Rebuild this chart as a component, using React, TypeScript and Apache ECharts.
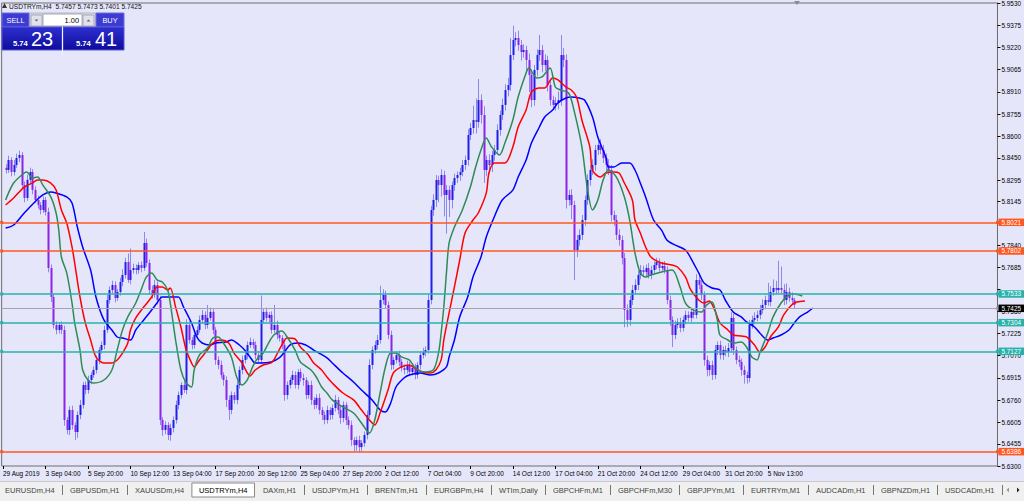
import React, { useEffect, useRef } from "react";
import * as echarts from "echarts";

// ---------- DATA (prices in 1e-4 above 5.0000, e.g. 7425 = 5.7425) ----------
const firstOpen = 8380;
const closes = [
  8365, 8435, 8351, 8400, 8449, 8470, 8260, 8170, 8296, 8351,
  8226, 8156, 8121, 8086, 8156, 8072, 7681, 7479, 7284, 7249,
  7284, 7249, 6621, 6551, 6691, 6586, 6537, 6656, 6726, 6865,
  6830, 6900, 6935, 6970, 7040, 7109, 7144, 7249, 7458, 7528,
  7563, 7472, 7514, 7584, 7633, 7723, 7598, 7667, 7681, 7667,
  7702, 7681, 7856, 7716, 7528, 7493, 7563, 7458, 6621, 6551,
  6586, 6516, 6565, 6621, 6726, 6795, 6865, 6830, 7284, 7179,
  7144, 7214, 7249, 7319, 7354, 7284, 7333, 7375, 7249, 7040,
  7005, 6935, 6900, 6761, 6691, 6795, 6761, 6865, 6970, 7040,
  7074, 7144, 7165, 7144, 7074, 7040, 7319, 7375, 7333, 7354,
  7249, 7284, 7214, 7193, 7144, 6795, 6865, 6900, 6935, 6865,
  6956, 6914, 6900, 6795, 6865, 6761, 6726, 6775, 6691, 6656,
  6621, 6691, 6656, 6705, 6761, 6691, 6635, 6726, 6621, 6586,
  6481, 6446, 6481, 6432, 6460, 6516, 6656, 7005, 7109, 7144,
  7179, 7458, 7493, 7423, 7214, 7005, 7040, 7074, 7026, 6984,
  6970, 7005, 6956, 6984, 6935, 7005, 7074, 7095, 7109, 7458,
  8086, 8156, 8295, 8260, 8330, 8191, 8226, 8156, 8260, 8309,
  8330, 8351, 8400, 8435, 8609, 8658, 8714, 8700, 8853, 8749,
  8365, 8435, 8400, 8470, 8505, 8644, 8749, 8819, 8923, 8958,
  9167, 9272, 9286, 9237, 9188, 9202, 9132, 9028, 8853, 9063,
  9167, 9202, 9097, 9132, 8958, 8853, 8819, 8833, 8853, 9167,
  9132, 8156, 8191, 8121, 7807, 7877, 7912, 8016, 8156, 8295,
  8365, 8400, 8505, 8540, 8505, 8449, 8400, 8365, 8051, 8016,
  7912, 7877, 7751, 7388, 7319, 7458, 7528, 7563, 7633, 7667,
  7653, 7681, 7633, 7667, 7702, 7723, 7681, 7695, 7667, 7458,
  7319, 7214, 7284, 7305, 7263, 7319, 7354, 7333, 7375, 7354,
  7598, 7563, 7493, 7040, 6970, 7005, 6935, 7109, 7144, 7074,
  7109, 7095, 7123, 7333, 7109, 7040, 7026, 6970, 6935, 6914,
  7284, 7319, 7333, 7354, 7388, 7423, 7458, 7444, 7514, 7542,
  7528, 7542, 7528, 7458, 7514, 7472, 7457, 7425,
];
const upperWicks = [
  25, 30, 20, 35, 30, 30, 20, 25, 35, 30,
  20, 25, 30, 20, 25, 20, 30, 25, 20, 25,
  20, 25, 30, 20, 25, 30, 20, 25, 35, 20,
  25, 30, 20, 25, 30, 20, 25, 30, 35, 25,
  30, 25, 20, 30, 40, 30, 60, 150, 30, 25,
  20, 25, 77, 30, 25, 30, 35, 25, 30, 20,
  25, 20, 30, 25, 30, 25, 20, 30, 40, 25,
  20, 30, 25, 30, 35, 25, 90, 30, 25, 20,
  25, 30, 20, 25, 30, 25, 20, 30, 25, 30,
  20, 25, 30, 20, 25, 30, 170, 25, 30, 20,
  25, 140, 30, 25, 20, 30, 25, 20, 30, 25,
  20, 25, 30, 20, 25, 30, 20, 25, 30, 20,
  25, 30, 20, 25, 35, 20, 30, 25, 20, 25,
  30, 20, 25, 30, 20, 25, 30, 40, 25, 30,
  35, 100, 40, 30, 25, 30, 20, 25, 30, 20,
  25, 30, 20, 25, 30, 20, 25, 30, 25, 40,
  30, 40, 35, 30, 40, 30, 35, 30, 25, 30,
  25, 30, 35, 30, 40, 35, 100, 150, 147, 40,
  60, 30, 40, 30, 35, 40, 30, 45, 40, 50,
  118, 100, 40, 50, 35, 40, 30, 45, 40, 35,
  40, 105, 35, 40, 30, 35, 30, 40, 60, 140,
  50, 40, 35, 40, 30, 35, 40, 35, 30, 40,
  35, 40, 35, 30, 40, 35, 30, 40, 35, 30,
  35, 40, 30, 35, 40, 30, 35, 40, 30, 35,
  30, 25, 35, 30, 25, 30, 25, 30, 35, 25,
  30, 25, 30, 25, 30, 25, 30, 25, 30, 25,
  40, 35, 30, 25, 30, 25, 30, 35, 25, 30,
  25, 30, 35, 40, 30, 25, 30, 25, 30, 25,
  35, 30, 40, 30, 35, 40, 30, 120, 40, 60,
  50, 190, 150, 40, 60, 30, 40, 16,
];
const lowerWicks = [
  25, 20, 30, 25, 20, 30, 25, 30, 20, 25,
  30, 20, 25, 30, 20, 25, 30, 35, 25, 30,
  25, 30, 40, 30, 35, 30, 56, 40, 30, 25,
  30, 25, 30, 20, 25, 30, 25, 30, 20, 25,
  25, 30, 20, 25, 30, 25, 20, 30, 25, 30,
  25, 30, 20, 25, 30, 25, 20, 30, 35, 40,
  30, 35, 40, 30, 25, 30, 25, 20, 30, 25,
  30, 25, 30, 20, 25, 30, 25, 20, 30, 35,
  30, 25, 40, 50, 70, 30, 25, 30, 25, 30,
  25, 30, 20, 25, 30, 25, 30, 20, 25, 30,
  25, 20, 30, 25, 30, 40, 30, 25, 30, 25,
  30, 25, 40, 30, 25, 35, 30, 25, 30, 35,
  30, 25, 35, 30, 25, 30, 40, 30, 35, 30,
  40, 45, 40, 35, 30, 25, 30, 25, 30, 25,
  30, 25, 30, 25, 30, 35, 30, 25, 30, 25,
  30, 25, 30, 25, 30, 25, 30, 25, 30, 25,
  30, 40, 50, 120, 80, 150, 270, 120, 60, 40,
  35, 40, 30, 35, 40, 35, 40, 80, 40, 60,
  90, 40, 60, 50, 40, 35, 40, 35, 40, 45,
  40, 35, 45, 40, 60, 40, 80, 120, 50, 40,
  45, 40, 50, 40, 45, 40, 35, 40, 45, 40,
  50, 60, 40, 100, 210, 50, 40, 35, 40, 35,
  40, 35, 40, 35, 30, 35, 40, 35, 45, 40,
  35, 40, 45, 120, 50, 40, 35, 30, 35, 30,
  25, 30, 25, 30, 25, 30, 25, 30, 25, 30,
  40, 84, 30, 25, 30, 25, 30, 25, 30, 25,
  25, 30, 35, 40, 45, 40, 35, 30, 35, 30,
  35, 30, 35, 30, 35, 30, 35, 40, 60, 40,
  30, 25, 30, 25, 30, 25, 30, 25, 30, 25,
  30, 25, 30, 35, 30, 25, 30, 24,
];

// Alligator lines: [bar position, price in 1e-4 above 5]
const lipsLine = [
  [0, 8156], [3, 8274], [7, 8344], [8, 8351], [10, 8309], [12, 8316], [14, 8260], [17, 8177], [19, 8065], [20, 7947],
  [21, 7758], [23, 7647], [25, 7437], [26, 7298], [28, 7109], [29, 6970], [31, 6900], [33, 6879], [37, 6900], [40, 6970],
  [42, 7109], [44, 7249], [46, 7340], [49, 7437], [51, 7528], [53, 7619], [55, 7647], [57, 7598], [59, 7584], [61, 7528],
  [62, 7437], [64, 7179], [66, 6970], [68, 6879], [70, 6851], [71, 6970], [73, 7075], [76, 7123], [78, 7193], [80, 7200],
  [82, 7158], [85, 7061], [87, 6921], [89, 6865], [91, 6900], [93, 6991], [95, 7054], [97, 7088], [99, 7158], [101, 7214],
  [104, 7242], [106, 7200], [109, 7109], [111, 7026], [115, 6970], [117, 6921], [119, 6851], [121, 6809], [123, 6761], [127, 6712],
  [131, 6670], [134, 6600], [137, 6530], [139, 6621], [141, 6809], [143, 6991], [145, 7088], [147, 7088], [149, 7061], [152, 7040],
  [154, 6991], [157, 6956], [161, 6970], [163, 7088], [164, 7228], [165, 7409], [166, 7647], [167, 7856], [169, 7967], [172, 8086],
  [175, 8246], [177, 8386], [179, 8505], [181, 8588], [183, 8526], [186, 8470], [188, 8553], [191, 8714], [193, 8874], [196, 9042],
  [197, 9077], [200, 9007], [202, 9014], [205, 9077], [207, 8944], [209, 8923], [212, 8902], [214, 8784], [217, 8526], [219, 8246],
  [221, 8086], [223, 8156], [225, 8295], [227, 8365], [230, 8316], [233, 8177], [235, 8016], [237, 7786], [239, 7647], [241, 7619],
  [243, 7633], [247, 7654], [251, 7667], [254, 7549], [256, 7437], [259, 7388], [262, 7374], [264, 7423], [266, 7444], [268, 7319],
  [269, 7214], [272, 7179], [274, 7158], [277, 7165], [279, 7130], [281, 7061], [283, 7040], [284, 7088], [287, 7228], [289, 7340],
  [292, 7437], [295, 7493], [297, 7500], [300, 7486],
];
const teethLine = [
  [0, 8121], [3, 8170], [7, 8246], [10, 8274], [12, 8295], [14, 8295], [17, 8274], [19, 8225], [21, 8086], [23, 7995],
  [25, 7828], [26, 7716], [28, 7479], [30, 7298], [32, 7179], [34, 7061], [37, 7019], [40, 7019], [42, 7040], [44, 7088],
  [46, 7158], [47, 7249], [49, 7333], [52, 7409], [55, 7479], [57, 7549], [59, 7549], [61, 7528], [62, 7542], [64, 7409],
  [66, 7270], [68, 7109], [70, 7019], [71, 6991], [73, 7040], [76, 7109], [78, 7158], [81, 7179], [84, 7158], [86, 7088],
  [89, 7019], [91, 6949], [92, 6928], [94, 6970], [97, 7005], [100, 7019], [101, 7040], [104, 7144], [106, 7193], [109, 7186],
  [111, 7130], [114, 7074], [116, 7019], [119, 6970], [121, 6921], [123, 6879], [127, 6809], [131, 6761], [134, 6691], [137, 6621],
  [139, 6586], [141, 6670], [144, 6830], [146, 6949], [149, 6991], [152, 7005], [154, 6984], [157, 6956], [160, 6949], [162, 6970],
  [164, 7040], [165, 7179], [167, 7368], [169, 7549], [171, 7737], [173, 7926], [176, 8016], [178, 8065], [181, 8205], [182, 8344],
  [184, 8414], [188, 8414], [191, 8526], [193, 8665], [196, 8784], [198, 8909], [201, 8937], [203, 8937], [206, 9007], [208, 8993],
  [211, 8944], [213, 8923], [215, 8874], [217, 8714], [220, 8526], [221, 8365], [224, 8316], [226, 8344], [229, 8351], [231, 8344],
  [233, 8274], [236, 8156], [237, 8016], [239, 7926], [241, 7828], [243, 7758], [247, 7716], [251, 7702], [253, 7688], [256, 7619],
  [258, 7528], [261, 7458], [263, 7437], [265, 7451], [267, 7388], [269, 7298], [272, 7249], [274, 7214], [277, 7207], [279, 7200],
  [282, 7144], [284, 7095], [286, 7130], [288, 7200], [291, 7270], [293, 7354], [296, 7423], [298, 7444], [301, 7451],
];
const jawLine = [
  [0, 7960], [3, 7981], [7, 8065], [11, 8142], [14, 8191], [17, 8212], [19, 8205], [23, 8177], [25, 8135], [27, 7967],
  [29, 7828], [32, 7667], [34, 7479], [37, 7319], [40, 7249], [42, 7200], [44, 7193], [47, 7179], [49, 7249], [52, 7319],
  [55, 7388], [57, 7437], [59, 7479], [62, 7479], [65, 7479], [67, 7409], [70, 7298], [72, 7200], [74, 7158], [77, 7144],
  [79, 7158], [83, 7165], [85, 7179], [88, 7144], [90, 7109], [92, 7061], [94, 7019], [96, 7019], [100, 7026], [103, 7054],
  [105, 7095], [107, 7144], [110, 7158], [113, 7144], [116, 7109], [118, 7088], [121, 7054], [123, 7019], [127, 6949], [131, 6886],
  [134, 6830], [138, 6761], [141, 6691], [143, 6677], [145, 6740], [147, 6851], [150, 6914], [152, 6935], [156, 6949], [160, 6935],
  [163, 6949], [166, 6991], [167, 7061], [169, 7179], [171, 7340], [174, 7479], [176, 7619], [179, 7758], [181, 7898], [184, 8037],
  [187, 8156], [191, 8225], [193, 8316], [196, 8435], [198, 8553], [201, 8665], [203, 8735], [206, 8784], [208, 8833], [211, 8867],
  [213, 8874], [216, 8867], [218, 8853], [221, 8735], [223, 8595], [226, 8456], [227, 8386], [229, 8386], [232, 8414], [235, 8414],
  [237, 8365], [239, 8274], [241, 8177], [244, 8016], [247, 7946], [249, 7877], [252, 7842], [256, 7807], [258, 7751], [261, 7647],
  [263, 7577], [266, 7542], [269, 7528], [271, 7458], [274, 7374], [277, 7340], [279, 7305], [282, 7270], [284, 7228], [287, 7179],
  [289, 7193], [292, 7214], [295, 7249], [297, 7298], [299, 7340], [302, 7374], [304, 7402],
];

const resistanceLevels = [5.8021, 5.7802, 5.6386];
const supportLevels = [5.7533, 5.7304, 5.7127];
const currentPrice = 5.7425;
const headerQuote = ["5.7457", "5.7473", "5.7401", "5.7425"];
const sellQuote = ["5.74", "23"];
const buyQuote = ["5.74", "41"];
const lotSize = "1.00";

const priceTicks = [
  5.953, 5.9375, 5.922, 5.9065, 5.891, 5.8755, 5.86, 5.845, 5.8295, 5.8145, 5.799,
  5.784, 5.7685, 5.753, 5.738, 5.7225, 5.707, 5.6915, 5.676, 5.6605, 5.6455, 5.63,
];
// 5.7530 sits fully behind the 5.7533 level box in the reference
const hiddenPriceLabels = [5.753];
const timeLabels = [
  "29 Aug 2019", "3 Sep 04:00", "5 Sep 20:00", "10 Sep 12:00", "13 Sep 04:00", "17 Sep 20:00",
  "20 Sep 12:00", "25 Sep 04:00", "27 Sep 20:00", "2 Oct 12:00", "7 Oct 04:00", "9 Oct 20:00",
  "14 Oct 12:00", "17 Oct 04:00", "21 Oct 20:00", "24 Oct 12:00", "29 Oct 04:00", "31 Oct 20:00",
  "5 Nov 13:00",
];
const tabs = [
  "EURUSDm,H4", "GBPUSDm,H1", "XAUUSDm,H4", "USDTRYm,H4", "DAXm,H1", "USDJPYm,H1", "BRENTm,H1",
  "EURGBPm,H4", "WTIm,Daily", "GBPCHFm,M1", "GBPCHFm,M30", "GBPJPYm,M1", "EURTRYm,M1",
  "AUDCADm,H1", "GBPNZDm,H1", "USDCADm,H1",
];
const activeTab = "USDTRYm,H4";
const symbolName = "USDTRYm,H4";

// category slot 0 is the (empty) 29 Aug 12:00 bar just left of the window
const BAR_OFFSET = 1;
const TOTAL_SLOTS = 375;
const FIRST_TICK = 16;
const TICK_STEP = 16;

// ---------- STYLE ----------
const BG = "#e6e6fa";
const BULL = "#1f1fe8";
const BEAR = "#8a24e6";
const WICK = "#8a8aee";
const ORANGE = "#ff5722";
const TEAL = "#27b3ab";
const FONT = "'Liberation Sans', Arial, sans-serif";

const toPrice = (v: number) => 5 + v / 10000;

function tickIndexOk(i: number) {
  if (i === 0) return true;
  if (i < FIRST_TICK) return false;
  const k = (i - FIRST_TICK) / TICK_STEP;
  return Number.isInteger(k) && k + 1 < timeLabels.length;
}
function tickLabel(i: number) {
  if (i === 0) return timeLabels[0];
  const k = (i - FIRST_TICK) / TICK_STEP;
  return Number.isInteger(k) && k + 1 < timeLabels.length ? timeLabels[k + 1] : "";
}

function measure(text: string, font: string) {
  const c = document.createElement("canvas").getContext("2d");
  if (!c) return text.length * 5;
  c.font = font;
  return c.measureText(text).width;
}

export default function App() {
  const ref = useRef<HTMLDivElement>(null);

  useEffect(() => {
    if (!ref.current) return;
    const chart = echarts.init(ref.current, undefined, { renderer: "svg" });

    const cats = Array.from({ length: TOTAL_SLOTS }, (_, i) => String(i));
    const candleData = closes.map((c, i) => {
      const o = i === 0 ? firstOpen : closes[i - 1];
      const h = Math.max(o, c) + upperWicks[i];
      const l = Math.min(o, c) - lowerWicks[i];
      return [i + BAR_OFFSET, toPrice(o), toPrice(c), toPrice(l), toPrice(h)];
    });
    const conv = (arr: number[][]) => arr.map(([x, v]) => [x + BAR_OFFSET, toPrice(v)]);

    const boxLabel = (text: string, bg: string) => ({
      show: true,
      position: "end",
      distance: 1,
      formatter: () => text,
      backgroundColor: bg,
      color: "#fff",
      fontSize: 6.4,
      lineHeight: 7.5,
      fontFamily: FONT,
      padding: [0, 3, 0, 3],
    });
    const levelMark = (v: number, color: string) => ({
      yAxis: v,
      lineStyle: { color, width: 1.6, type: "solid" },
      label: boxLabel(v.toFixed(4), color),
    });

    // tab bar layout
    const tabFont = `7.5px ${FONT}`;
    const GAP = 7.4;
    const tabChildren: any[] = [];
    let tx = 5;
    tabs.forEach((t, idx) => {
      const w = measure(t, tabFont);
      if (t === activeTab) {
        tabChildren.push({
          type: "rect",
          shape: { x: tx - 7, y: 483, width: w + 14, height: 14 },
          style: { fill: "#ffffff", stroke: "#8a8a8a", lineWidth: 1 },
        });
      }
      tabChildren.push({
        type: "text",
        style: {
          x: tx, y: 490, text: t, font: tabFont,
          fill: t === activeTab ? "#000" : "#444", verticalAlign: "middle",
        },
      });
      const sx = Math.round(tx + w + GAP) + 0.5;
      const drawSep =
        idx === tabs.length - 1 || (t !== activeTab && tabs[idx + 1] !== activeTab);
      if (drawSep) {
        tabChildren.push({
          type: "line",
          shape: { x1: sx, y1: 485, x2: sx, y2: 495 },
          style: { stroke: "#777", lineWidth: 1 },
        });
      }
      tx = sx + GAP;
    });

    const priceBoxGrad = new echarts.graphic.LinearGradient(0, 0, 0, 1, [
      { offset: 0, color: "#2f2fd0" },
      { offset: 1, color: "#0c0c9c" },
    ]);

    const option: any = {
      animation: false,
      backgroundColor: BG,
      grid: {
        left: -4.17, right: 26, top: 3, bottom: 35,
        show: true, borderColor: "#6f6f6f", borderWidth: 1, backgroundColor: BG,
      },
      xAxis: {
        type: "category",
        data: cats,
        boundaryGap: true,
        axisLine: { show: false },
        axisTick: {
          show: true, alignWithLabel: true, interval: (i: number) => tickIndexOk(i),
          length: 3, lineStyle: { color: "#000", width: 1 },
        },
        axisLabel: {
          show: true,
          interval: (i: number) => tickIndexOk(i),
          formatter: (_v: string, i: number) => tickLabel(i),
          align: "left",
          fontSize: 6.5,
          fontFamily: FONT,
          color: "#000",
          margin: 4,
        },
        splitLine: { show: false },
      },
      yAxis: {
        type: "value",
        position: "right",
        min: 5.63,
        max: 5.953,
        axisLine: { show: true, lineStyle: { color: "#6f6f6f" } },
        axisTick: { show: true, length: 3, customValues: priceTicks, lineStyle: { color: "#000" } },
        axisLabel: {
          show: true,
          customValues: priceTicks.filter((v) => !hiddenPriceLabels.includes(v)),
          formatter: (v: number) => v.toFixed(4),
          fontSize: 6.4,
          fontFamily: FONT,
          color: "#000",
          margin: 4,
        },
        splitLine: { show: false },
      },
      series: [
        {
          type: "custom",
          name: "candles",
          z: 2,
          clip: true,
          data: candleData,
          encode: { x: 0, y: [1, 2, 3, 4] },
          renderItem: (_p: any, api: any) => {
            const i = api.value(0);
            const o = api.value(1), c = api.value(2), l = api.value(3), h = api.value(4);
            const pO = api.coord([i, o]);
            const pC = api.coord([i, c]);
            const pL = api.coord([i, l]);
            const pH = api.coord([i, h]);
            const x = Math.round(pO[0]) + 0.5;
            const top = Math.min(pO[1], pC[1]);
            const bh = Math.max(1, Math.abs(pO[1] - pC[1]));
            const bull = c >= o;
            return {
              type: "group",
              children: [
                { type: "line", shape: { x1: x, y1: pH[1], x2: x, y2: pL[1] }, style: { stroke: WICK, lineWidth: 1 } },
                { type: "rect", shape: { x: x - 1, y: top, width: 2, height: bh }, style: { fill: bull ? BULL : BEAR } },
              ],
            };
          },
          markLine: {
            silent: true,
            symbol: ["rect", "rect"],
            symbolSize: 3,
            data: [
              ...resistanceLevels.map((v) => levelMark(v, ORANGE)),
              ...supportLevels.map((v) => levelMark(v, TEAL)),
              {
                yAxis: currentPrice,
                symbol: "none",
                lineStyle: { color: "#a4a4b0", width: 1, type: "solid" },
                label: boxLabel(currentPrice.toFixed(4), "#000"),
              },
            ],
          },
        },
        {
          type: "line", name: "jaw", z: 3, data: conv(jawLine), smooth: 0.3, showSymbol: false,
          lineStyle: { color: "#0000ff", width: 1.5 },
        },
        {
          type: "line", name: "teeth", z: 3, data: conv(teethLine), smooth: 0.3, showSymbol: false,
          lineStyle: { color: "#ff0000", width: 1.5 },
        },
        {
          type: "line", name: "lips", z: 3, data: conv(lipsLine), smooth: 0.3, showSymbol: false,
          lineStyle: { color: "#2e8b57", width: 1.5 },
        },
      ],
      graphic: [
        // header
        { type: "polygon", shape: { points: [[2, 8], [7, 8], [4.5, 3]] }, style: { fill: "#333" } },
        {
          type: "text",
          style: {
            x: 9, y: 6.5, verticalAlign: "middle",
            text: `${symbolName}  ${headerQuote.join(" ")}`,
            font: `6.6px ${FONT}`, fill: "#111",
          },
        },
        // chart shift marker
        { type: "polygon", shape: { points: [[794, 1], [800, 1], [797, 5]] }, style: { fill: "#8c8c8c" } },
        // trade panel
        { type: "rect", shape: { x: 29, y: 13, width: 67, height: 14 }, style: { fill: "#d6d6e2", stroke: "#b8b8c8" } },
        { type: "rect", shape: { x: 2, y: 13, width: 27, height: 14 }, style: { fill: "#3c3cd2", stroke: "#6a6ae6" } },
        { type: "text", style: { x: 15.5, y: 20, text: "SELL", font: `7.4px ${FONT}`, fill: "#fff", align: "center", verticalAlign: "middle" } },
        { type: "rect", shape: { x: 31, y: 15, width: 11, height: 11 }, style: { fill: "#e2e2ea", stroke: "#a8a8b8" } },
        { type: "polygon", shape: { points: [[34.5, 19.5], [38.5, 19.5], [36.5, 21.5]] }, style: { fill: "#666" } },
        { type: "rect", shape: { x: 43, y: 14, width: 39, height: 12 }, style: { fill: "#fff", stroke: "#a8a8b8" } },
        { type: "text", style: { x: 79, y: 20.5, text: lotSize, font: `7.4px ${FONT}`, fill: "#000", align: "right", verticalAlign: "middle" } },
        { type: "rect", shape: { x: 83, y: 15, width: 11, height: 11 }, style: { fill: "#e2e2ea", stroke: "#a8a8b8" } },
        { type: "polygon", shape: { points: [[86.5, 21.5], [90.5, 21.5], [88.5, 19.5]] }, style: { fill: "#666" } },
        { type: "rect", shape: { x: 96, y: 13, width: 28, height: 14 }, style: { fill: "#3c3cd2", stroke: "#6a6ae6" } },
        { type: "text", style: { x: 110, y: 20, text: "BUY", font: `7.4px ${FONT}`, fill: "#fff", align: "center", verticalAlign: "middle" } },
        { type: "rect", shape: { x: 2, y: 27, width: 60, height: 23 }, style: { fill: priceBoxGrad, stroke: "#5656d8" } },
        { type: "rect", shape: { x: 63, y: 27, width: 61, height: 23 }, style: { fill: priceBoxGrad, stroke: "#5656d8" } },
        { type: "line", shape: { x1: 62.5, y1: 27, x2: 62.5, y2: 55 }, style: { stroke: "#f4f4ff", lineWidth: 1 } },
        { type: "text", style: { x: 13, y: 47, text: sellQuote[0], font: `bold 7.6px ${FONT}`, fill: "#fff", verticalAlign: "bottom" } },
        { type: "text", style: { x: 31, y: 49, text: sellQuote[1], font: `20px ${FONT}`, fill: "#fff", verticalAlign: "bottom" } },
        { type: "text", style: { x: 76, y: 47, text: buyQuote[0], font: `bold 7.6px ${FONT}`, fill: "#fff", verticalAlign: "bottom" } },
        { type: "text", style: { x: 95, y: 49, text: buyQuote[1], font: `20px ${FONT}`, fill: "#fff", verticalAlign: "bottom" } },
        // tab bar
        { type: "rect", shape: { x: 0, y: 481, width: 1024, height: 20 }, style: { fill: "#f0f0f0" } },
        { type: "line", shape: { x1: 0, y1: 481.5, x2: 1024, y2: 481.5 }, style: { stroke: "#c8c8c8", lineWidth: 1 } },
        { type: "group", children: tabChildren },
        { type: "polygon", shape: { points: [[1009, 487.5], [1009, 492.5], [1006.5, 490]] }, style: { fill: "#999" } },
        { type: "polygon", shape: { points: [[1017, 487.5], [1017, 492.5], [1019.5, 490]] }, style: { fill: "#222" } },
      ],
    };

    chart.setOption(option);
    return () => chart.dispose();
  }, []);

  return (
    <div
      ref={ref}
      style={{ position: "fixed", left: 0, top: 0, width: 1024, height: 501, background: BG }}
    />
  );
}
